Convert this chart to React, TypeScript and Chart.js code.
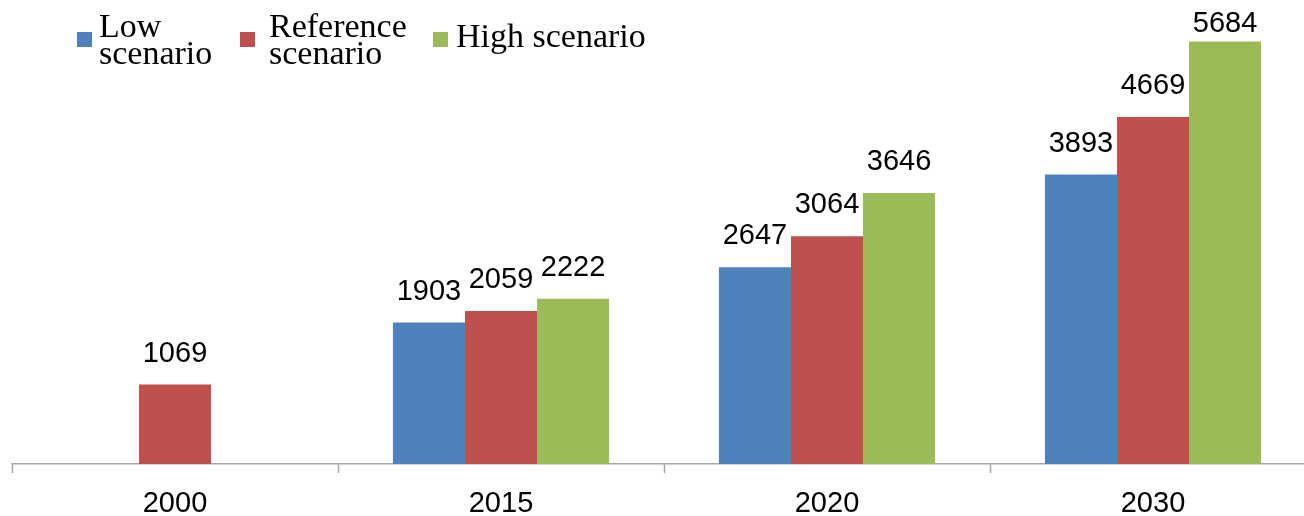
import React, { useEffect, useRef } from "react";
import { Chart, registerables } from "chart.js";

Chart.register(...registerables);

// Projected demand by scenario
const categories = ["2000", "2015", "2020", "2030"];
const seriesNames = ["Low\nscenario", "Reference\nscenario", "High scenario"];
const lowValues = [null, 1903, 2647, 3893];
const referenceValues = [1069, 2059, 3064, 4669];
const highValues = [null, 2222, 3646, 5684];
const seriesColors = ["#4F81BD", "#C0504D", "#9BBB59"];

const CANVAS_W = 1316;
const CANVAS_H = 516;

// Legend layout: swatch and text left edges for each entry
const LEGEND_SWATCH_X = [77, 240, 433];
const LEGEND_TEXT_X = [99, 269, 456];

// Value labels above each bar, kept inside the canvas at the top
const valueLabels = {
  id: "valueLabels",
  afterDatasetsDraw(chart: any) {
    const ctx = chart.ctx;
    ctx.save();
    ctx.font = "29px 'Liberation Sans', Arial, sans-serif";
    ctx.fillStyle = "#000";
    ctx.textAlign = "center";
    ctx.textBaseline = "alphabetic";
    chart.data.datasets.forEach((ds: any, di: number) => {
      const meta = chart.getDatasetMeta(di);
      meta.data.forEach((el: any, i: number) => {
        const v = ds.data[i];
        if (v === null || v === undefined) return;
        const y = Math.max(el.y - 23, 32);
        ctx.fillText(String(v), el.x, y);
      });
    });
    ctx.restore();
  },
};

// Legend with wrapped, serif labels drawn across the top left
const topLegend = {
  id: "topLegend",
  afterDraw(chart: any) {
    const ctx = chart.ctx;
    ctx.save();
    ctx.font = "34px 'Liberation Serif', 'Times New Roman', serif";
    ctx.textBaseline = "alphabetic";
    ctx.textAlign = "left";
    const box = 15;
    const boxTop = 32;
    chart.data.datasets.forEach((ds: any, di: number) => {
      const lines = String(ds.label).split("\n");
      ctx.fillStyle = ds.backgroundColor;
      ctx.fillRect(LEGEND_SWATCH_X[di], boxTop, box, box);
      ctx.fillStyle = "#000";
      const first = lines.length === 1 ? 47 : 37;
      lines.forEach((ln, li) => {
        ctx.fillText(ln, LEGEND_TEXT_X[di], first + li * 27);
      });
    });
    ctx.restore();
  },
};

export default function App() {
  const canvasRef = useRef<HTMLCanvasElement | null>(null);

  useEffect(() => {
    const canvas = canvasRef.current;
    if (!canvas) return;
    const chart = new Chart(canvas, {
      type: "bar",
      data: {
        labels: categories,
        datasets: [
          { label: seriesNames[0], data: lowValues, backgroundColor: seriesColors[0] },
          { label: seriesNames[1], data: referenceValues, backgroundColor: seriesColors[1] },
          { label: seriesNames[2], data: highValues, backgroundColor: seriesColors[2] },
        ],
      },
      options: {
        animation: false,
        responsive: false,
        maintainAspectRatio: false,
        devicePixelRatio: 1,
        layout: { padding: { top: 18, left: 12, right: 0, bottom: 0 } },
        datasets: {
          bar: { categoryPercentage: 0.663, barPercentage: 1, borderWidth: 0 },
        },
        plugins: {
          legend: { display: false },
          tooltip: { enabled: false },
        },
        scales: {
          x: {
            offset: true,
            grid: {
              display: true,
              offset: true,
              drawOnChartArea: false,
              drawTicks: true,
              tickLength: 9,
              tickWidth: 1.5,
              tickColor: "#a6a6a6",
            },
            border: { display: true, color: "#a6a6a6", width: 1.5 },
            ticks: {
              color: "#000",
              padding: 14,
              font: { family: "'Liberation Sans', Arial, sans-serif", size: 29 },
            },
            afterFit(scale: any) {
              scale.height = 52;
            },
          },
          y: {
            display: false,
            min: 0,
            max: 6000,
          },
        },
      },
      plugins: [valueLabels, topLegend],
    });
    return () => chart.destroy();
  }, []);

  return (
    <div style={{ position: "fixed", left: 0, top: 0, width: CANVAS_W, height: CANVAS_H, background: "#fff" }}>
      <canvas ref={canvasRef} width={CANVAS_W} height={CANVAS_H} style={{ display: "block" }} />
    </div>
  );
}
